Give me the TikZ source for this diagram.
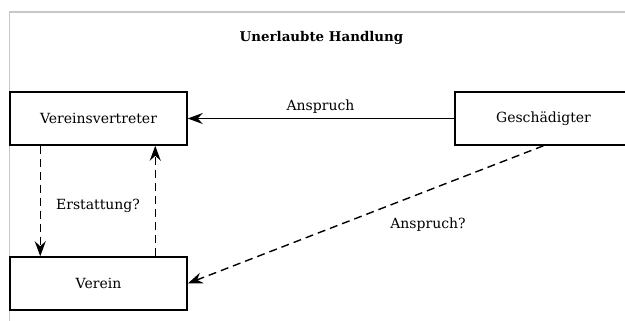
\documentclass[tikz,border=0pt]{standalone}
\usepackage{fontspec}
\setmainfont{DejaVu Serif}
\usetikzlibrary{arrows.meta,calc}
\begin{document}
\begin{tikzpicture}[x=1pt,y=1pt,
  box/.style={draw=black,line width=1.5pt,minimum width=177pt,minimum height=53pt,inner sep=0pt,font=\fontsize{14}{16}\selectfont},
  lbl/.style={font=\fontsize{14}{16}\selectfont,anchor=base,inner sep=0pt},
  conn/.style={line width=1.4pt,-{Stealth[length=15pt,width=11pt,inset=5pt]}},
  dashconn/.style={conn,dash pattern=on 8pt off 5pt}]
\useasboundingbox (0,0) rectangle (625,321);
\clip (0,0) rectangle (625,321);
\fill[white] (0,0) rectangle (625,321);
\draw[color={rgb,255:red,200;green,200;blue,200},line width=1.5pt] (9.5,-20) -- (9.5,309) -- (660,309);
\node[font=\bfseries\fontsize{13.4}{16}\selectfont,anchor=base,inner sep=0pt] (title) at (321.5,279) {Unerlaubte Handlung};
\node[box] (vv) at (98.5,202.5) {Vereinsvertreter};
\node[box] (gs) at (543.5,202.5) {Geschädigter};
\node[box] (ve) at (98.5,37.5) {Verein};
\coordinate (vvA) at ($(vv.south west)+(31,0)$);
\coordinate (veA) at ($(ve.north west)+(31,0)$);
\coordinate (vvB) at ($(vv.south west)+(146,0)$);
\coordinate (veB) at ($(ve.north west)+(146,0)$);
\draw[conn] (gs.west) -- (vv.east);
\draw[dashconn] (vvA) -- (veA);
\draw[dashconn] (veB) -- (vvB);
\draw[dashconn] (gs.south) -- (ve.east);
\node[lbl] (l1) at (320.5,210) {Anspruch};
\node[lbl] (l2) at (98,111) {Erstattung?};
\node[lbl] (l3) at (428,92) {Anspruch?};
\end{tikzpicture}
\end{document}
